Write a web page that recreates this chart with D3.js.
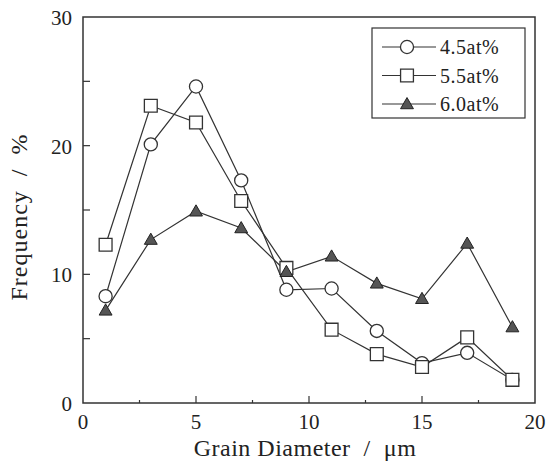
<!DOCTYPE html>
<html>
<head>
<meta charset="utf-8">
<script src="https://cdn.jsdelivr.net/npm/d3@7/dist/d3.min.js"></script>
<style>
  body { margin: 0; background: #fff; }
  svg text { font-family: 'Liberation Serif', 'DejaVu Serif', serif; fill: #222; }
</style>
</head>
<body>
<div id="chart"></div>
<script>
// DATA
const diameters = [1, 3, 5, 7, 9, 11, 13, 15, 17, 19];
const freq45 = [8.3, 20.1, 24.6, 17.3, 8.8, 8.9, 5.6, 3.1, 3.9, 1.8];
const freq55 = [12.3, 23.1, 21.8, 15.7, 10.5, 5.7, 3.8, 2.8, 5.1, 1.8];
const freq60 = [7.2, 12.7, 14.9, 13.6, 10.2, 11.4, 9.3, 8.1, 12.4, 5.9];
const seriesNames = ['4.5at%', '5.5at%', '6.0at%'];
const xTicks = [0, 5, 10, 15, 20];
const yTicks = [0, 10, 20, 30];

const lineColor = '#333';

const margin = { top: 17, right: 22, bottom: 62, left: 83 };
const totalW = 557, totalH = 465;
const width = totalW - margin.left - margin.right;
const height = totalH - margin.top - margin.bottom;

const svg = d3.select('#chart').append('svg')
    .attr('width', totalW)
    .attr('height', totalH);

const g = svg.append('g')
    .attr('transform', 'translate(' + margin.left + ',' + margin.top + ')');

const x = d3.scaleLinear().domain([0, 20]).range([0, width]);
const y = d3.scaleLinear().domain([0, 30]).range([height, 0]);

// frame
g.append('rect')
    .attr('width', width)
    .attr('height', height)
    .attr('fill', 'none')
    .attr('stroke', lineColor)
    .attr('stroke-width', 1.5);

// x ticks (inward)
const xAll = d3.range(0, 20.01, 2.5).filter(v => v > 0 && v < 20);
g.selectAll('.xtick').data(xAll).enter().append('line')
    .attr('x1', d => x(d)).attr('x2', d => x(d))
    .attr('y1', height)
    .attr('y2', d => height - (d % 5 === 0 ? 7 : 3))
    .attr('stroke', lineColor).attr('stroke-width', 1.2);

// y ticks (inward)
const yAll = d3.range(5, 30, 5);
g.selectAll('.ytick').data(yAll).enter().append('line')
    .attr('x1', 0).attr('x2', 7)
    .attr('y1', d => y(d)).attr('y2', d => y(d))
    .attr('stroke', lineColor).attr('stroke-width', 1.2);

// tick labels
g.selectAll('.xlab').data(xTicks).enter().append('text')
    .attr('x', d => x(d))
    .attr('y', height + 26)
    .attr('text-anchor', 'middle')
    .style('font-size', '21px')
    .text(d => d);

g.selectAll('.ylab').data(yTicks).enter().append('text')
    .attr('x', -11)
    .attr('y', d => y(d) + 8)
    .attr('text-anchor', 'end')
    .style('font-size', '21px')
    .text(d => d);

// axis titles
g.append('text')
    .attr('x', width / 2 - 4)
    .attr('y', height + 53)
    .attr('text-anchor', 'middle')
    .style('font-size', '24px')
    .style('white-space', 'pre')
    .style('letter-spacing', '0.5px')
    .text('Grain Diameter  /  \u03bcm');

g.append('text')
    .attr('transform', 'translate(-56,' + (height / 2 + 7) + ') rotate(-90)')
    .attr('text-anchor', 'middle')
    .style('font-size', '24px')
    .style('white-space', 'pre')
    .style('letter-spacing', '1px')
    .text('Frequency  /  %');

// series
const series = [freq45, freq55, freq60].map((vals, i) => ({
    name: seriesNames[i],
    values: diameters.map((d, j) => ({ d: d, v: vals[j] }))
}));

const lineGen = d3.line()
    .x(p => x(p.d))
    .y(p => y(p.v));

series.forEach(s => {
    g.append('path')
        .attr('d', lineGen(s.values))
        .attr('fill', 'none')
        .attr('stroke', lineColor)
        .attr('stroke-width', 1.2);
});

const circleSym = d3.symbol().type(d3.symbolCircle).size(135);
const squareSym = d3.symbol().type(d3.symbolSquare).size(165);
const triSym = d3.symbol().type(d3.symbolTriangle).size(72);

function drawMarker(sel, idx) {
    if (idx === 0) {
        sel.attr('d', circleSym).attr('fill', '#fff').attr('stroke', lineColor).attr('stroke-width', 1.3);
    } else if (idx === 1) {
        sel.attr('d', squareSym).attr('fill', '#fff').attr('stroke', lineColor).attr('stroke-width', 1.3);
    } else {
        sel.attr('d', triSym).attr('fill', '#555').attr('stroke', '#222').attr('stroke-width', 1);
    }
}

series.forEach((s, i) => {
    g.selectAll('.pt' + i).data(s.values).enter().append('path')
        .attr('transform', p => 'translate(' + x(p.d) + ',' + (y(p.v) + (i === 2 ? 1 : 0)) + ')')
        .call(drawMarker, i);
});

// legend
const legend = svg.append('g').attr('transform', 'translate(372,28)');
legend.append('rect')
    .attr('width', 153)
    .attr('height', 90)
    .attr('fill', '#fff')
    .attr('stroke', lineColor)
    .attr('stroke-width', 1.2);

seriesNames.forEach((name, i) => {
    const row = legend.append('g').attr('transform', 'translate(0,' + (19 + i * 28.5) + ')');
    row.append('line')
        .attr('x1', 10).attr('x2', 64)
        .attr('stroke', lineColor).attr('stroke-width', 1.2);
    row.append('path')
        .attr('transform', 'translate(35,' + (i === 2 ? 1 : 0) + ')')
        .call(drawMarker, i);
    row.append('text')
        .attr('x', 68)
        .attr('y', 7)
        .style('font-size', '20px')
        .style('letter-spacing', '0.5px')
        .text(name);
});
</script>
</body>
</html>
